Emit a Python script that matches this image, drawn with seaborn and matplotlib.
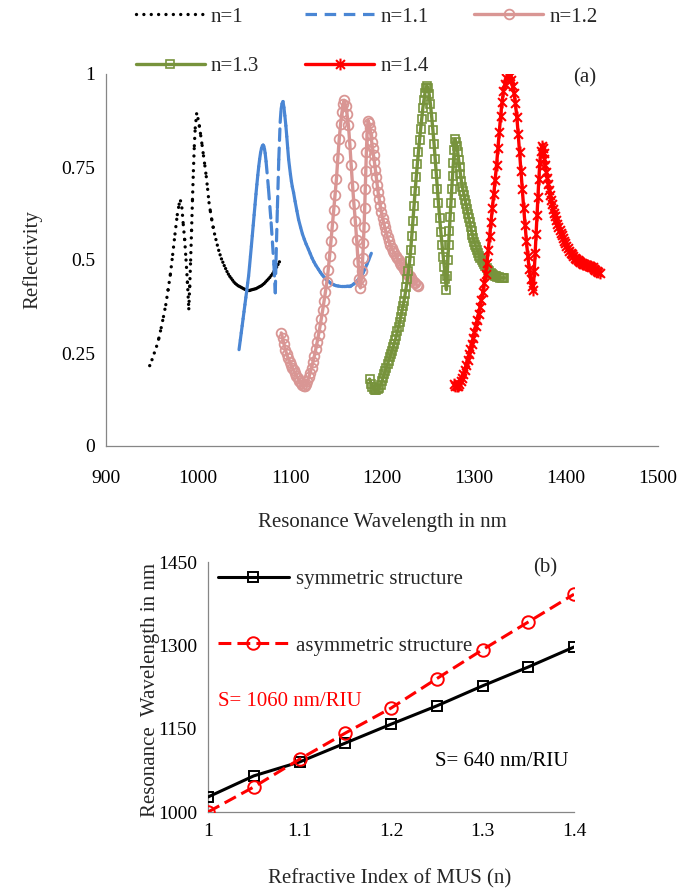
import numpy as np
import matplotlib
matplotlib.use("Agg")
import matplotlib.pyplot as plt
import seaborn as sns
from matplotlib.collections import LineCollection
from matplotlib.lines import Line2D
from matplotlib.path import Path

# ---------------- data: panel (a) ----------------
w_n10 = [947.5, 950, 952.5, 955, 957.5, 960, 962.5, 965, 967.5, 970, 972.5, 975, 977.5, 979.5, 981,
         982.5, 984, 985.5, 987, 988.5, 990,
         991, 992, 993, 994, 995, 996, 997, 998.5,
         1000, 1001.5, 1003, 1004.5, 1006, 1007.5, 1009, 1010.5, 1012, 1013.5, 1015, 1016.5, 1018, 1019.5,
         1021, 1022.5, 1024, 1025.5, 1027, 1028.5, 1030, 1031.5, 1033, 1034.5, 1036, 1037.5, 1039, 1040.5,
         1042, 1043.5, 1045, 1046.5, 1048, 1049.5, 1051, 1052.5, 1054, 1055.5, 1057, 1058.5, 1060, 1061.5,
         1063, 1064.5, 1066, 1067.5, 1069, 1070.5, 1072, 1073.5, 1075, 1076.5, 1078, 1079.5, 1081, 1082.5,
         1084, 1085.5, 1087, 1088.5, 1090.5]
r_n10 = [0.216, 0.232, 0.250, 0.268, 0.290, 0.318, 0.348, 0.380, 0.420, 0.462, 0.515, 0.570, 0.622, 0.650, 0.659,
         0.640, 0.595, 0.555, 0.500, 0.440, 0.369,
         0.430, 0.500, 0.580, 0.663, 0.740, 0.807, 0.855, 0.893,
         0.880, 0.860, 0.834, 0.808, 0.780, 0.753, 0.724, 0.690, 0.654, 0.630, 0.608, 0.588, 0.570, 0.555,
         0.540, 0.526, 0.514, 0.503, 0.494, 0.485, 0.477, 0.469, 0.462, 0.456, 0.451, 0.446, 0.441, 0.437,
         0.434, 0.431, 0.429, 0.427, 0.425, 0.423, 0.421, 0.420, 0.419, 0.419, 0.419, 0.420, 0.421, 0.422,
         0.423, 0.425, 0.427, 0.429, 0.431, 0.434, 0.437, 0.441, 0.445, 0.449, 0.453, 0.458, 0.463, 0.469,
         0.475, 0.481, 0.488, 0.495, 0.503]

w_n11 = [1044.6, 1046, 1047, 1048, 1049, 1050, 1051, 1052, 1053, 1054, 1055, 1056, 1057, 1058, 1059, 1060,
         1061, 1062, 1063, 1064, 1065, 1066, 1067, 1068, 1069, 1070, 1070.8,
         1071.5, 1072.3, 1073, 1074, 1076.5, 1079.5, 1082.5, 1084,
         1084.8, 1086.3, 1087.8, 1089.3, 1090.3, 1091.3, 1092.4,
         1093.4, 1094.4, 1095.5, 1096.5, 1097.5, 1098.5, 1099.5, 1100.5, 1101.5, 1102.5, 1103.9, 1105.5,
         1107.5, 1109.3, 1111.5, 1113.5, 1115.5, 1117.5, 1120, 1122, 1124, 1126, 1128, 1130.9, 1133, 1135,
         1137, 1139, 1141.6, 1144, 1146, 1148, 1150, 1152.4, 1155, 1157, 1159, 1161, 1163, 1165, 1166.8,
         1169, 1171, 1173, 1175, 1177.6, 1179.5, 1181.5, 1183.5, 1185.5, 1188.4]
r_n11 = [0.259, 0.285, 0.304, 0.323, 0.342, 0.361, 0.380, 0.399, 0.418, 0.438, 0.457, 0.483, 0.510, 0.537,
         0.565, 0.593, 0.621, 0.649, 0.677, 0.703, 0.728, 0.751, 0.771, 0.788, 0.800, 0.807, 0.809,
         0.806, 0.798, 0.787, 0.765, 0.695, 0.600, 0.488, 0.412,
         0.500, 0.640, 0.770, 0.870, 0.905, 0.920, 0.926,
         0.910, 0.888, 0.861, 0.832, 0.801, 0.771, 0.750, 0.730, 0.712, 0.697, 0.681, 0.658,
         0.632, 0.609, 0.588, 0.570, 0.556, 0.543, 0.529, 0.517, 0.505, 0.495, 0.486, 0.475, 0.467, 0.460,
         0.454, 0.448, 0.443, 0.438, 0.435, 0.433, 0.431, 0.430, 0.429, 0.429, 0.429, 0.429, 0.430, 0.430,
         0.431, 0.435, 0.439, 0.444, 0.450, 0.457, 0.466, 0.476, 0.488, 0.500, 0.518]

w_n12 = [1090.5, 1092, 1093.5, 1095, 1096.5, 1098, 1099.5, 1101, 1102.5, 1104, 1105.5, 1107, 1108.5, 1110,
         1111.5, 1113, 1114.7,
         1116, 1117.5, 1119, 1120.5, 1122, 1123.5, 1125, 1126.5, 1128, 1129.5, 1131, 1132.5, 1134, 1135.5,
         1137, 1138.5, 1140, 1141.5, 1143, 1144.5, 1146, 1147.5, 1149, 1150.5, 1152, 1153.5, 1155, 1156.5,
         1158, 1158.9,
         1160.5, 1162, 1163.5, 1165, 1166.5, 1168, 1169.5, 1171, 1172.5, 1174, 1175.3, 1176.5,
         1177.3, 1178.2, 1179, 1179.8, 1180.5, 1181.2, 1181.8, 1182.4, 1183, 1183.7, 1184.8,
         1185.8, 1186.8, 1187.8, 1188.8, 1189.8, 1190.8, 1191.8, 1192.8, 1193.8, 1194.8, 1195.8, 1197,
         1198.2, 1199.4, 1200.6, 1201.8, 1203, 1204.5, 1206, 1207.5, 1209, 1210.5, 1212, 1213.5, 1215,
         1216.5, 1218, 1219.5, 1221, 1222.5, 1224, 1225.5, 1227, 1228.5, 1230, 1231.5, 1233, 1234.5, 1236,
         1237.5, 1238.7]
r_n12 = [0.304, 0.289, 0.274, 0.259, 0.246, 0.236, 0.227, 0.219, 0.211, 0.203, 0.196, 0.189, 0.182, 0.175,
         0.169, 0.164, 0.160,
         0.162, 0.167, 0.175, 0.185, 0.197, 0.211, 0.226, 0.242, 0.260, 0.279, 0.299, 0.320, 0.342, 0.365,
         0.389, 0.414, 0.440, 0.472, 0.510, 0.550, 0.592, 0.634, 0.676, 0.718, 0.775, 0.825, 0.866, 0.898,
         0.920, 0.929,
         0.915, 0.892, 0.862, 0.812, 0.755, 0.700, 0.650, 0.605, 0.553, 0.495, 0.450, 0.425,
         0.440, 0.470, 0.505, 0.545, 0.590, 0.640, 0.690, 0.740, 0.790, 0.835, 0.875,
         0.868, 0.855, 0.838, 0.818, 0.800, 0.781, 0.763, 0.743, 0.723, 0.702, 0.682, 0.663,
         0.645, 0.628, 0.614, 0.600, 0.588, 0.574, 0.561, 0.550, 0.540, 0.532, 0.525, 0.519, 0.512,
         0.505, 0.499, 0.493, 0.487, 0.481, 0.476, 0.471, 0.466, 0.461, 0.456, 0.451, 0.446, 0.442, 0.438,
         0.434, 0.430]

w_n13 = [1186.5, 1188, 1189.5, 1191, 1192.5, 1194, 1195.5, 1197, 1198.5, 1200,
         1201.2, 1202.4, 1203.6, 1204.8, 1206, 1207.2, 1208.4, 1209.6, 1210.8, 1212, 1213.2, 1214.4, 1215.6,
         1216.8, 1218, 1219.2, 1220.4, 1221.6, 1222.8, 1224, 1225.2, 1226.4, 1227.6, 1228.8, 1230, 1231.2,
         1232.4, 1233.6, 1234.8, 1236, 1237.2, 1238.4, 1239.6, 1240.8, 1242, 1243.2, 1244.4, 1245.6, 1246.8,
         1248, 1248.7,
         1250, 1251.3, 1252.6, 1254, 1255.3, 1256.6, 1257.8, 1259, 1260.2, 1261.4, 1262.7, 1264, 1265.3,
         1266.6, 1267.8, 1269, 1270,
         1270.8, 1271.6, 1272.4, 1273.2, 1274, 1274.9, 1275.8, 1276.7, 1277.6, 1278.5, 1279.3,
         1280.3, 1281.3, 1282.3, 1283.3, 1284.3, 1285.3, 1286.3, 1287.3, 1288.3, 1289.3, 1290.3, 1291.3,
         1292.3, 1293.3, 1294.3, 1295.3, 1296.3, 1297.3, 1298.3, 1299.3, 1300.3, 1301.3, 1302.3, 1303.3,
         1304.5, 1305.7, 1307, 1308.3, 1309.6, 1311, 1312.4, 1313.8, 1315.2, 1316.6, 1318, 1319.5, 1321,
         1322.5, 1324, 1325.5, 1327, 1328.5, 1330, 1331.5, 1333]
r_n13 = [0.180, 0.168, 0.159, 0.153, 0.150, 0.150, 0.152, 0.157, 0.165, 0.175,
         0.184, 0.193, 0.202, 0.211, 0.220, 0.229, 0.238, 0.247, 0.256, 0.265, 0.275, 0.285, 0.296,
         0.308, 0.321, 0.334, 0.348, 0.362, 0.376, 0.391, 0.409, 0.428, 0.448, 0.470, 0.496, 0.528,
         0.565, 0.605, 0.645, 0.685, 0.722, 0.757, 0.790, 0.822, 0.852, 0.880, 0.908, 0.930, 0.950,
         0.963, 0.969,
         0.962, 0.945, 0.920, 0.885, 0.850, 0.812, 0.772, 0.732, 0.692, 0.652, 0.612, 0.575, 0.540,
         0.508, 0.480, 0.448, 0.420,
         0.458, 0.500, 0.540, 0.578, 0.615, 0.652, 0.690, 0.727, 0.762, 0.795, 0.825,
         0.818, 0.806, 0.790, 0.770, 0.750, 0.730, 0.712, 0.697, 0.685, 0.674, 0.662, 0.650,
         0.638, 0.625, 0.613, 0.601, 0.589, 0.578, 0.568, 0.558, 0.549, 0.541, 0.534, 0.528,
         0.520, 0.512, 0.505, 0.499, 0.494, 0.489, 0.484, 0.479, 0.474, 0.470, 0.466, 0.463, 0.460,
         0.458, 0.456, 0.454, 0.453, 0.452, 0.452, 0.452, 0.452]

w_n14 = [1278, 1279.5, 1281, 1282.5, 1284, 1285.5, 1287, 1288.5, 1290, 1291.5, 1293, 1294.5, 1296, 1297.5,
         1299, 1300.5, 1302, 1303.5, 1305, 1306.5, 1308, 1309.5, 1311, 1312.5, 1314, 1315.5, 1317, 1318.5,
         1320, 1321.5, 1323, 1324.5, 1326, 1327.5, 1329, 1330.5, 1332, 1333.5, 1335, 1336.5, 1337.6,
         1339, 1340.5, 1342, 1343.5, 1345, 1346.5, 1348, 1349.5, 1351, 1352.5, 1354, 1355.5, 1357, 1358.5,
         1360, 1361.5, 1363, 1364.5,
         1365.5, 1366.5, 1367.5, 1368.5, 1369.5, 1370.5, 1371.5, 1372.5, 1373.6,
         1374.6, 1375.6, 1376.6, 1377.6, 1378.6, 1379.6, 1380.6, 1381.6, 1382.6, 1383.6, 1384.6, 1385.8,
         1387, 1388.2, 1389.4, 1390.6, 1391.8, 1393, 1394.2, 1395.4, 1396.6, 1397.8, 1399, 1400.5, 1402,
         1403.5, 1405, 1406.5, 1408, 1409.5, 1411, 1412.5, 1414, 1415.5, 1417, 1418.5, 1420, 1421.5, 1423,
         1424.5, 1426, 1427.5, 1429, 1430.5, 1432, 1433.5, 1435, 1436.5]
r_n14 = [0.168, 0.162, 0.160, 0.162, 0.167, 0.174, 0.183, 0.193, 0.205, 0.218, 0.232, 0.246, 0.260, 0.275,
         0.290, 0.306, 0.322, 0.339, 0.356, 0.374, 0.393, 0.414, 0.437, 0.463, 0.493, 0.527, 0.565, 0.603,
         0.640, 0.678, 0.716, 0.755, 0.800, 0.845, 0.888, 0.925, 0.953, 0.973, 0.988, 0.996, 1.000,
         0.995, 0.985, 0.968, 0.948, 0.922, 0.885, 0.840, 0.790, 0.740, 0.690, 0.640, 0.595, 0.550, 0.510,
         0.475, 0.448, 0.430, 0.420,
         0.470, 0.520, 0.570, 0.620, 0.670, 0.718, 0.760, 0.792, 0.807,
         0.800, 0.788, 0.772, 0.755, 0.737, 0.720, 0.704, 0.689, 0.675, 0.662, 0.650, 0.638,
         0.627, 0.617, 0.607, 0.598, 0.589, 0.581, 0.573, 0.566, 0.559, 0.552, 0.545, 0.538, 0.531,
         0.525, 0.520, 0.515, 0.510, 0.506, 0.502, 0.499, 0.496, 0.494, 0.492, 0.490, 0.488, 0.487, 0.486,
         0.485, 0.484, 0.482, 0.480, 0.477, 0.474, 0.471, 0.468, 0.466]

series_labels = ["n=1", "n=1.1", "n=1.2", "n=1.3", "n=1.4"]
x_ticks_a = [900, 1000, 1100, 1200, 1300, 1400, 1500]
y_ticks_a = [0, 0.25, 0.5, 0.75, 1]
y_ticklabels_a = ["0", "0.25", "0.5", "0.75", "1"]

# ---------------- data: panel (b) ----------------
n_index = [1.0, 1.05, 1.1, 1.15, 1.2, 1.25, 1.3, 1.35, 1.4]
res_symmetric = [1027, 1065, 1090, 1124, 1158, 1191, 1227, 1261, 1297]
res_asymmetric = [1000, 1045, 1095, 1142, 1187, 1240, 1292, 1342, 1392]
x_ticks_b = [1.0, 1.1, 1.2, 1.3, 1.4]
x_ticklabels_b = ["1", "1.1", "1.2", "1.3", "1.4"]
y_ticks_b = [1000, 1150, 1300, 1450]

# ---------------- style ----------------
sns.set_theme(style="white")
plt.rcParams['font.family'] = ['Liberation Serif', 'DejaVu Serif']
plt.rcParams['axes.unicode_minus'] = False

BLACK = "#000000"
BLUE = "#4A86D4"
PINK = "#D99694"
GREEN = "#77933C"
RED = "#FF0000"
GRAY = "#868686"

star = Path([(0, -1), (0, 1), (-0.75, -0.75), (0.75, 0.75), (-0.75, 0.75), (0.75, -0.75)],
            [Path.MOVETO, Path.LINETO, Path.MOVETO, Path.LINETO, Path.MOVETO, Path.LINETO])

fig = plt.figure(figsize=(6.78, 8.92), dpi=100)
ax1 = fig.add_axes([106 / 678, 1 - 446 / 892, (658 - 106) / 678, (446 - 74) / 892])
ax2 = fig.add_axes([208 / 678, 1 - 812 / 892, (574 - 208) / 678, (812 - 562) / 892])


def seg_line(ax, x, y, color, lw, dash, cap, z):
    # each segment gets its own dash pattern (pattern restarts at every data point)
    pts = np.column_stack([x, y])
    segs = np.stack([pts[:-1], pts[1:]], axis=1)
    lc = LineCollection(segs, colors=color, linewidths=lw, linestyles=[(0, dash)],
                        capstyle=cap, zorder=z)
    ax.add_collection(lc)


# panel (a)
seg_line(ax1, w_n10, r_n10, BLACK, 2.4, (0.01, 2.2), "round", 2)
seg_line(ax1, w_n11, r_n11, BLUE, 2.3, (3.6, 2.4), "round", 2.1)
sns.lineplot(x=w_n12, y=r_n12, ax=ax1, sort=False, estimator=None, color=PINK, linewidth=2.4,
             marker="o", markersize=7.0, mfc="none", mec=PINK, mew=1.3, zorder=3)
sns.lineplot(x=w_n13, y=r_n13, ax=ax1, sort=False, estimator=None, color=GREEN, linewidth=2.4,
             marker="s", markersize=5.6, mfc="none", mec=GREEN, mew=1.2, zorder=4)
sns.lineplot(x=w_n14, y=r_n14, ax=ax1, sort=False, estimator=None, color=RED, linewidth=2.4,
             marker=star, markersize=8.5, mfc="none", mec=RED, mew=1.5, zorder=5)

ax1.set_xlim(900, 1500)
ax1.set_ylim(0, 1)
ax1.set_xticks(x_ticks_a)
ax1.set_xticklabels([str(v) for v in x_ticks_a])
ax1.set_yticks(y_ticks_a)
ax1.set_yticklabels(y_ticklabels_a)
ax1.set_xlabel("Resonance Wavelength in nm", fontsize=15)
ax1.set_ylabel("Reflectivity", fontsize=15)
ax1.xaxis.set_label_coords(0.50, -0.18)
ax1.yaxis.set_label_coords(-0.115, 0.5)

handles = [
    Line2D([], [], color=BLACK, lw=2.4, ls=(0, (0.01, 2.2)), dash_capstyle="round"),
    Line2D([], [], color=GREEN, lw=2.4, marker="s", ms=5.6, mfc="none", mec=GREEN, mew=1.2),
    Line2D([], [], color=BLUE, lw=2.3, ls=(0, (3.6, 2.4)), dash_capstyle="butt"),
    Line2D([], [], color=RED, lw=2.4, marker=star, ms=8.5, mec=RED, mew=1.5),
    Line2D([], [], color=PINK, lw=2.4, marker="o", ms=7.0, mfc="none", mec=PINK, mew=1.3),
]
labels = [series_labels[0], series_labels[3], series_labels[1], series_labels[4], series_labels[2]]
fig.legend(handles, labels, loc="upper left", bbox_to_anchor=(136 / 678, 1 - 7 / 892), ncol=3,
           frameon=False, fontsize=15, handlelength=3.3, handletextpad=0.3, columnspacing=2.2,
           labelspacing=1.45, borderpad=0, borderaxespad=0)
fig.text(585 / 678, 1 - 78 / 892, "(a)", fontsize=15, ha="center", va="center")

# panel (b)
sns.lineplot(x=n_index, y=res_symmetric, ax=ax2, sort=False, estimator=None, color=BLACK,
             linewidth=2.2, marker="s", markersize=7.5, mfc="none", mec=BLACK, mew=1.4, zorder=3)
sns.lineplot(x=n_index, y=res_asymmetric, ax=ax2, sort=False, estimator=None, color=RED,
             linewidth=2.2, linestyle=(0, (4.2, 2.0)), marker="o", markersize=9, mfc="none",
             mec=RED, mew=1.4, zorder=4)
ax2.set_xlim(1.0, 1.4)
ax2.set_ylim(1000, 1450)
ax2.set_xticks(x_ticks_b)
ax2.set_xticklabels(x_ticklabels_b)
ax2.set_yticks(y_ticks_b)
ax2.set_yticklabels([str(v) for v in y_ticks_b])
ax2.set_xlabel("Refractive Index of MUS (n)", fontsize=15)
ax2.set_ylabel("Resonance  Wavelength in nm", fontsize=15)
ax2.xaxis.set_label_coords(0.497, -0.228)
ax2.yaxis.set_label_coords(-0.131, 0.488)

h2 = [Line2D([], [], color=BLACK, lw=2.2, marker="s", ms=7.5, mfc="none", mec=BLACK, mew=1.4),
      Line2D([], [], color=RED, lw=2.2, ls=(0, (4.2, 2.0)), marker="o", ms=9, mfc="none", mec=RED, mew=1.4)]
ax2.legend(h2, ["symmetric structure", "asymmetric structure"], loc="upper left",
           bbox_to_anchor=(0.027, 0.97), frameon=False, fontsize=15, handlelength=3.4,
           handletextpad=0.35, labelspacing=2.25, borderpad=0, borderaxespad=0)
ax2.text(0.027, 0.44, "S= 1060 nm/RIU", transform=ax2.transAxes, color=RED, fontsize=15,
         ha="left", va="center")
ax2.text(0.62, 0.20, "S= 640 nm/RIU", transform=ax2.transAxes, color=BLACK, fontsize=15,
         ha="left", va="center")
ax2.text(0.92, 0.975, "(b)", transform=ax2.transAxes, fontsize=15, ha="center", va="center")

for ax in (ax1, ax2):
    for side in ("top", "right"):
        ax.spines[side].set_visible(False)
    for side in ("left", "bottom"):
        ax.spines[side].set_color(GRAY)
        ax.spines[side].set_linewidth(0.9)
    ax.tick_params(axis="both", direction="out", length=4, width=0.9, color=GRAY,
                   labelsize=14, labelcolor="black", pad=4)
    ax.set_facecolor("white")
    ax.grid(False)
ax1.tick_params(axis="x", pad=13)

fig.savefig("out.png", dpi=100, facecolor="white")
